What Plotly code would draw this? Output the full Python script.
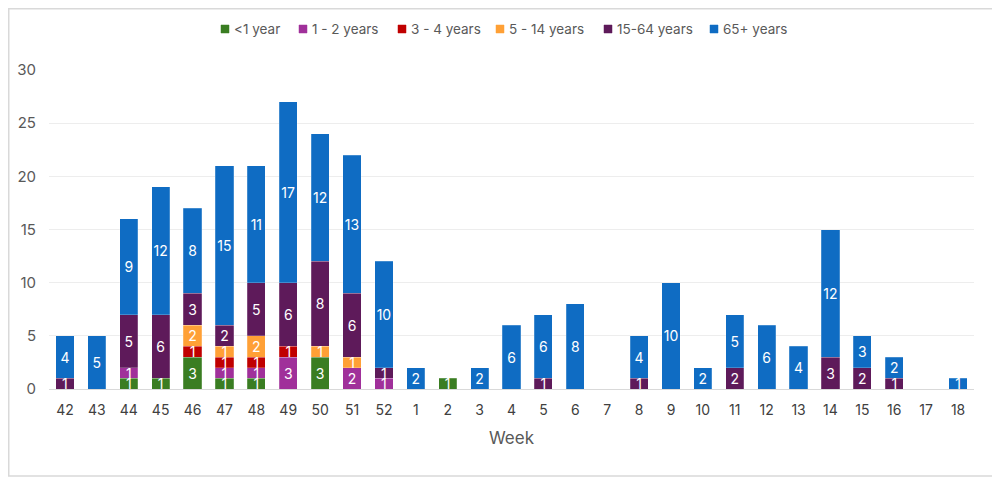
import plotly.graph_objects as go

weeks = ["42", "43", "44", "45", "46", "47", "48", "49", "50", "51", "52",
         "1", "2", "3", "4", "5", "6", "7", "8", "9", "10", "11", "12",
         "13", "14", "15", "16", "17", "18"]

under1 = [0, 0, 1, 1, 3, 1, 1, 0, 3, 0, 0, 0, 1, 0, 0, 0, 0, 0, 0, 0, 0, 0, 0, 0, 0, 0, 0, 0, 0]
age1_2 = [0, 0, 1, 0, 0, 1, 1, 3, 0, 2, 1, 0, 0, 0, 0, 0, 0, 0, 0, 0, 0, 0, 0, 0, 0, 0, 0, 0, 0]
age3_4 = [0, 0, 0, 0, 1, 1, 1, 1, 0, 0, 0, 0, 0, 0, 0, 0, 0, 0, 0, 0, 0, 0, 0, 0, 0, 0, 0, 0, 0]
age5_14 = [0, 0, 0, 0, 2, 1, 2, 0, 1, 1, 0, 0, 0, 0, 0, 0, 0, 0, 0, 0, 0, 0, 0, 0, 0, 0, 0, 0, 0]
age15_64 = [1, 0, 5, 6, 3, 2, 5, 6, 8, 6, 1, 0, 0, 0, 0, 1, 0, 0, 1, 0, 0, 2, 0, 0, 3, 2, 1, 0, 0]
age65 = [4, 5, 9, 12, 8, 15, 11, 17, 12, 13, 10, 2, 0, 2, 6, 6, 8, 0, 4, 10, 2, 5, 6, 4, 12, 3, 2, 0, 1]

series = [
    ("<1 year", under1, "#3A7D22"),
    ("1 - 2 years", age1_2, "#A0309A"),
    ("3 - 4 years", age3_4, "#C00000"),
    ("5 - 14 years", age5_14, "#FFA036"),
    ("15-64 years", age15_64, "#5E1A5A"),
    ("65+ years", age65, "#0F6CC3"),
]

# legend swatch positions (px from figure left), compact like the Excel legend
legend_px = [217, 295, 394, 492, 600, 706]

font = "Inter, Roboto, Liberation Sans, sans-serif"
W, H = 992, 469
L, R, T, B = 41, 26, 62, 88
pw, ph = W - L - R, H - T - B

fig = go.Figure()
for name, vals, col in series:
    ys = [v if v else None for v in vals]
    fig.add_trace(go.Bar(
        x=weeks, y=ys, name=name, showlegend=False,
        marker=dict(color=col, line=dict(color="rgba(255,255,255,0.35)", width=0.6)),
        text=[str(v) if v else "" for v in vals],
        textposition="inside", insidetextanchor="middle", textangle=0,
        constraintext="none",
        textfont=dict(color="white", size=14, family=font),
        hoverinfo="name+y",
    ))

# legend drawn by hand so the spacing is as tight as in the original
leg_y = (ph + T - 21) / ph
for (name, vals, col), px in zip(series, legend_px):
    xp = (px - L) / pw
    fig.add_shape(type="rect", xref="paper", yref="paper",
                  xsizemode="pixel", ysizemode="pixel", xanchor=xp, yanchor=leg_y,
                  x0=-4, x1=4, y0=-4, y1=4,
                  fillcolor=col, line=dict(color=col, width=0.5))
    fig.add_annotation(text=name, xref="paper", yref="paper", x=xp, y=leg_y,
                       xanchor="left", yanchor="middle", xshift=7, showarrow=False,
                       font=dict(size=13.5, color="#595959", family=font))

fig.update_layout(
    barmode="stack", bargap=0.43,
    width=W, height=H,
    paper_bgcolor="white", plot_bgcolor="white",
    margin=dict(l=L, r=R, t=T, b=B, autoexpand=False),
    font=dict(family=font, color="#595959"),
    showlegend=False,
)
fig.update_xaxes(type="category", tickfont=dict(size=14, color="#404040"),
                 ticklabelstandoff=8,
                 title=dict(text="Week", font=dict(size=17, color="#595959"), standoff=15),
                 showline=True, linecolor="#D9D9D9", ticks="", showgrid=False)
fig.update_yaxes(range=[0, 30], dtick=5, tickfont=dict(size=15, color="#595959"),
                 showgrid=True, gridcolor="#EDEDED", zeroline=False, ticklabelstandoff=12)

# thin chart-area frame
fig.add_shape(type="rect", xref="paper", yref="paper",
              x0=(0.75 - L) / pw, x1=(987 - L) / pw,
              y0=(ph + T - 468) / ph, y1=(ph + T - 0.75) / ph,
              line=dict(color="#D9D9D9", width=1.5), layer="below")

fig.write_html("out.html")
